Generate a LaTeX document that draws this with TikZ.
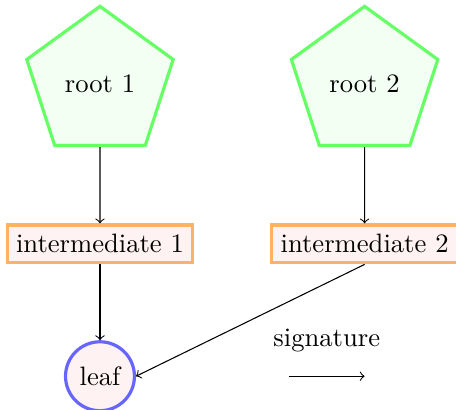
\documentclass[tikz,border=0pt]{standalone}
\usepackage{tikz}
\usetikzlibrary{positioning,shapes.geometric}

\begin{document}
\begin{tikzpicture}[
    node distance=1cm and 1cm,
    rootnode/.style={regular polygon, regular polygon sides=5, draw=green!60, fill=green!5, very thick, minimum size=2cm},
    midnode/.style={rectangle, draw=orange!60, fill=red!5, very thick, minimum size=5mm},
    leafnode/.style={circle, draw=blue!60, fill=red!5, very thick},
]
    \useasboundingbox (-1.32,1.1) rectangle (4.7,-4.31);

    \node[midnode] (mid1) at (0,-2.12) {intermediate 1};
    \node[midnode, right=of mid1] (mid2) {intermediate 2};
    \node[rootnode] (root1) at (mid1 |- 0,0) {root 1};
    \node[rootnode] (root2) at (mid2 |- 0,0) {root 2};
    \node[leafnode, below=of mid1] (leaf) {leaf};

    % legend arrow
    \coordinate (sigend) at (mid2 |- leaf);
    \coordinate[left=1cm of sigend] (sigstart);

    \draw[->] (root1.south) -- (mid1.north);
    \draw[->] (root2.south) -- (mid2.north);
    \draw[->] (mid1.south) -- (leaf.north);
    \draw[->] (mid2.south) -- (leaf.east);
    \draw[->] (sigstart) -- (sigend) node[midway, above=0.2cm] (sig) {signature};
\end{tikzpicture}
\end{document}
